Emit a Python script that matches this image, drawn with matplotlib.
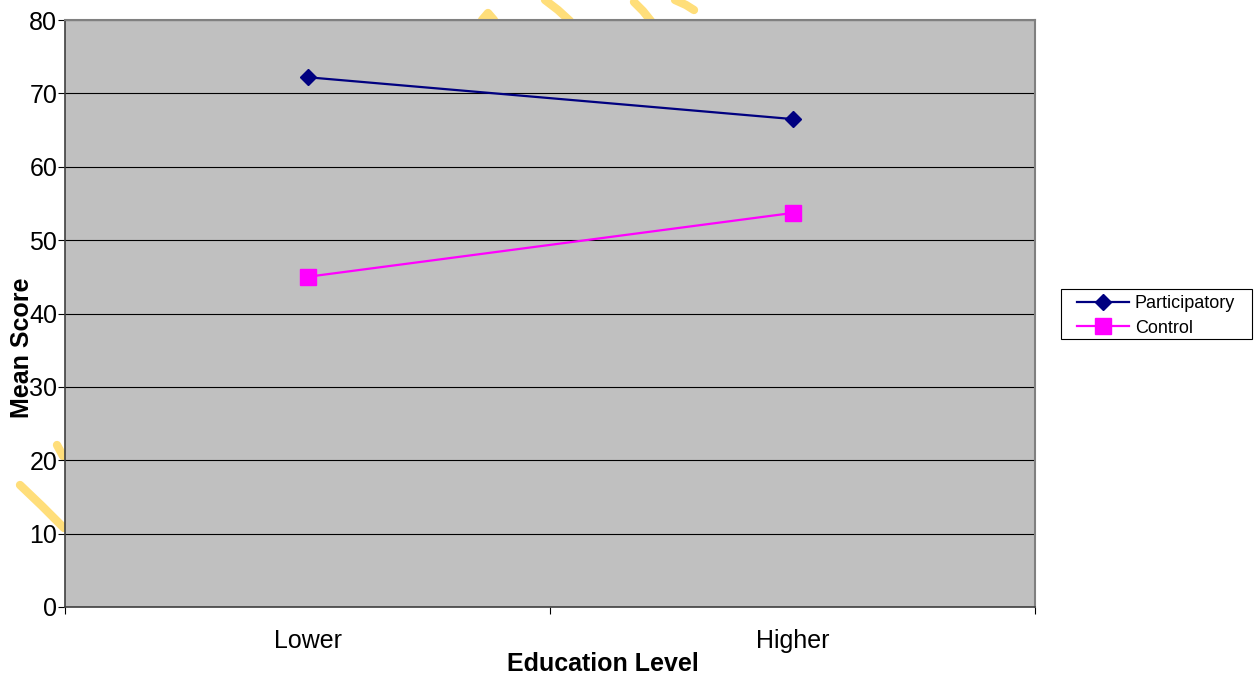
import matplotlib
matplotlib.use('Agg')
import matplotlib.pyplot as plt
from matplotlib.lines import Line2D
from matplotlib.patches import Rectangle

# data
CATEGORIES    = ['Lower', 'Higher']
PARTICIPATORY = [72.2, 66.5]
CONTROL       = [45.0, 53.7]
Y_TICKS       = [0, 10, 20, 30, 40, 50, 60, 70, 80]

FIG_W, FIG_H = 1259, 675
PLOT_BG  = '#C0C0C0'
NAVY     = '#000080'
MAGENTA  = '#FF00FF'
MARK_YEL = '#FFDE7A'

plt.rcParams['font.family'] = ['Liberation Sans', 'DejaVu Sans']


def px(x, y):
    """pixel (from top-left) -> figure fraction"""
    return x / FIG_W, 1 - y / FIG_H


fig = plt.figure(figsize=(FIG_W / 100, FIG_H / 100), dpi=100)
fig.patch.set_facecolor('white')

# faint watermark strokes sitting behind the plot area
strokes = [
    [(482, 20), (488, 13), (494, 20)],
    [(545, 0), (558, 10), (570, 21)],
    [(634, 2), (643, 11), (651, 21)],
    [(675, 0), (686, 5), (694, 10)],
    [(57, 445), (63, 456)],
    [(20, 485), (42, 506), (64, 528)],
]
for s in strokes:
    xs, ys = zip(*[px(x, y) for x, y in s])
    fig.add_artist(Line2D(xs, ys, transform=fig.transFigure, color=MARK_YEL,
                          linewidth=6, solid_capstyle='round', zorder=-5))

l, b = px(65, 607)
r, t = px(1035, 20)
ax = fig.add_axes([l, b, r - l, t - b])
ax.set_facecolor(PLOT_BG)
ax.set_zorder(1)

xpos = list(range(len(CATEGORIES)))
ax.plot(xpos, PARTICIPATORY, '-D', color=NAVY, linewidth=1.6,
        markersize=8.5, label='Participatory', zorder=4)
ax.plot(xpos, CONTROL, '-s', color=MAGENTA, linewidth=1.6,
        markersize=11, label='Control', zorder=4)

ax.set_xlim(-0.5, len(CATEGORIES) - 0.5)
ax.set_ylim(0, 80)
ax.set_yticks(Y_TICKS)
ax.yaxis.grid(True, color='black', linewidth=0.8)
ax.set_axisbelow(True)

ax.set_xticks(xpos)
ax.set_xticklabels(CATEGORIES)
ax.set_xticks([i - 0.5 for i in range(len(CATEGORIES) + 1)], minor=True)
ax.tick_params(axis='x', which='major', length=0, pad=16, labelsize=18)
ax.tick_params(axis='x', which='minor', length=5, width=0.8, color='black')
ax.tick_params(axis='y', length=5, width=0.8, color='black', pad=0.5, labelsize=18)

for side in ('top', 'right'):
    ax.spines[side].set_color('#808080')
    ax.spines[side].set_linewidth(1.5)
for side in ('left', 'bottom'):
    ax.spines[side].set_color('#404040')
    ax.spines[side].set_linewidth(1.2)

ax.set_xlabel('Education Level', fontsize=18, fontweight='bold', va='center')
ax.xaxis.set_label_coords((603 - 65) / 970, -(664 - 607) / 587)
ax.set_ylabel('Mean Score', fontsize=18, fontweight='bold', va='center')
ax.yaxis.set_label_coords((22 - 65) / 970, (607 - 348) / 587)

# legend with an Excel-like plain frame
leg = fig.legend(loc='center left', bbox_to_anchor=px(1077, 316),
                 frameon=False, fontsize=13, handlelength=2.9,
                 handletextpad=0.3, labelspacing=0.42, borderpad=0,
                 borderaxespad=0)
lx, ly = px(1061, 339)
rx, ry = px(1252, 289)
fig.add_artist(Rectangle((lx, ly), rx - lx, ry - ly, transform=fig.transFigure,
                         facecolor='white', edgecolor='black', linewidth=0.8,
                         zorder=-1))

fig.savefig('out.png', dpi=100, facecolor='white')
